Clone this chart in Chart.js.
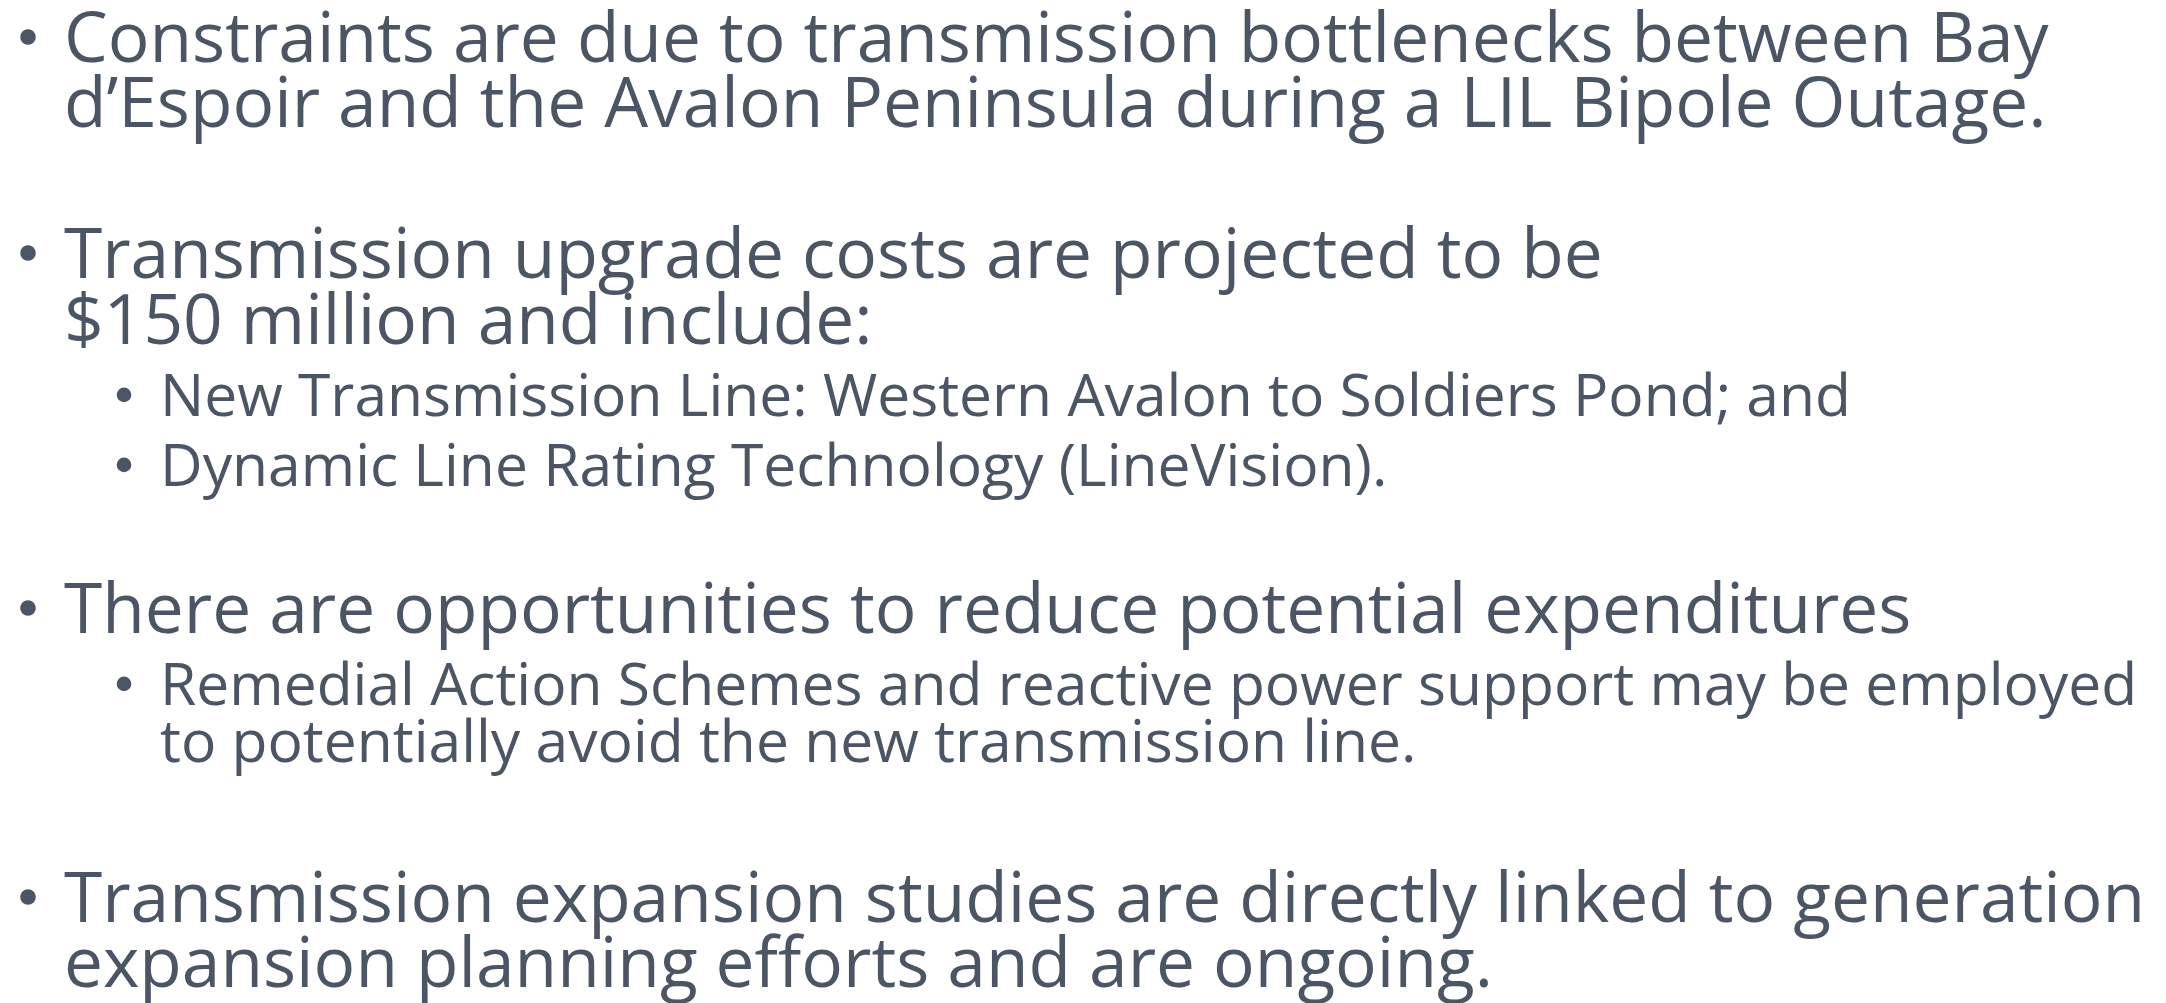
<!DOCTYPE html>
<html>
<head>
<meta charset="utf-8">
<script src="https://cdn.jsdelivr.net/npm/chart.js@4/dist/chart.umd.min.js"></script>
<style>
  html, body { margin: 0; padding: 0; background: #ffffff; }
  #wrap { width: 2166px; height: 1003px; position: relative; }
</style>
</head>
<body>
<div id="wrap"><canvas id="c" width="2166" height="1003"></canvas></div>
<script>
// ---- text content ----
const bullet1 = ["Constraints are due to transmission bottlenecks between Bay", "d’Espoir and the Avalon Peninsula during a LIL Bipole Outage."];
const bullet2 = ["Transmission upgrade costs are projected to be", "$150 million and include:"];
const bullet2Subs = [["New Transmission Line: Western Avalon to Soldiers Pond; and"], ["Dynamic Line Rating Technology (LineVision)."]];
const bullet3 = ["There are opportunities to reduce potential expenditures"];
const bullet3Subs = [["Remedial Action Schemes and reactive power support may be employed", "to potentially avoid the new transmission line."]];
const bullet4 = ["Transmission expansion studies are directly linked to generation", "expansion planning efforts and are ongoing."];

// ---- layout (styling) ----
const TEXT_COLOR = '#4b5563';
const FONT = '"Open Sans", "Noto Sans", sans-serif';
const MAIN = { size: 69.45, textX: 64, bulletX: 28, bulletR: 7.8 };
const SUB  = { size: 58.75, textX: 160, bulletX: 124, bulletR: 7.3 };

function buildLines() {
  const items = [];
  const main = (lines, baselines) => lines.forEach((t, i) => items.push({ lvl: MAIN, text: t, y: baselines[i], bullet: i === 0 }));
  const sub = (lines, baselines) => lines.forEach((t, i) => items.push({ lvl: SUB, text: t, y: baselines[i], bullet: i === 0 }));
  main(bullet1, [62, 127]);
  main(bullet2, [278, 344]);
  sub(bullet2Subs[0], [416]);
  sub(bullet2Subs[1], [486]);
  main(bullet3, [633]);
  sub(bullet3Subs[0], [705, 762]);
  main(bullet4, [922, 987]);
  return items;
}

const textPlugin = {
  id: 'bulletText',
  afterDraw(chart) {
    const ctx = chart.ctx;
    ctx.save();
    ctx.fillStyle = TEXT_COLOR;
    ctx.textBaseline = 'alphabetic';
    ctx.textAlign = 'left';
    buildLines().forEach(it => {
      ctx.font = it.lvl.size + 'px ' + FONT;
      ctx.fillText(it.text, it.lvl.textX, it.y);
      if (it.bullet) {
        ctx.beginPath();
        ctx.arc(it.lvl.bulletX, it.y - it.lvl.size * 0.36, it.lvl.bulletR, 0, Math.PI * 2);
        ctx.fill();
      }
    });
    ctx.restore();
  }
};

function make() {
  new Chart(document.getElementById('c'), {
    type: 'line',
    data: { labels: [], datasets: [] },
    options: {
      responsive: false, animation: false,
      layout: { padding: 0 },
      plugins: { legend: { display: false }, tooltip: { enabled: false }, title: { display: false } },
      scales: { x: { display: false }, y: { display: false } }
    },
    plugins: [textPlugin]
  });
}
if (document.fonts && document.fonts.load) {
  Promise.all([document.fonts.load('69px "Open Sans"'), document.fonts.load('58px "Open Sans"')]).then(make, make);
} else { make(); }
</script>
</body>
</html>
